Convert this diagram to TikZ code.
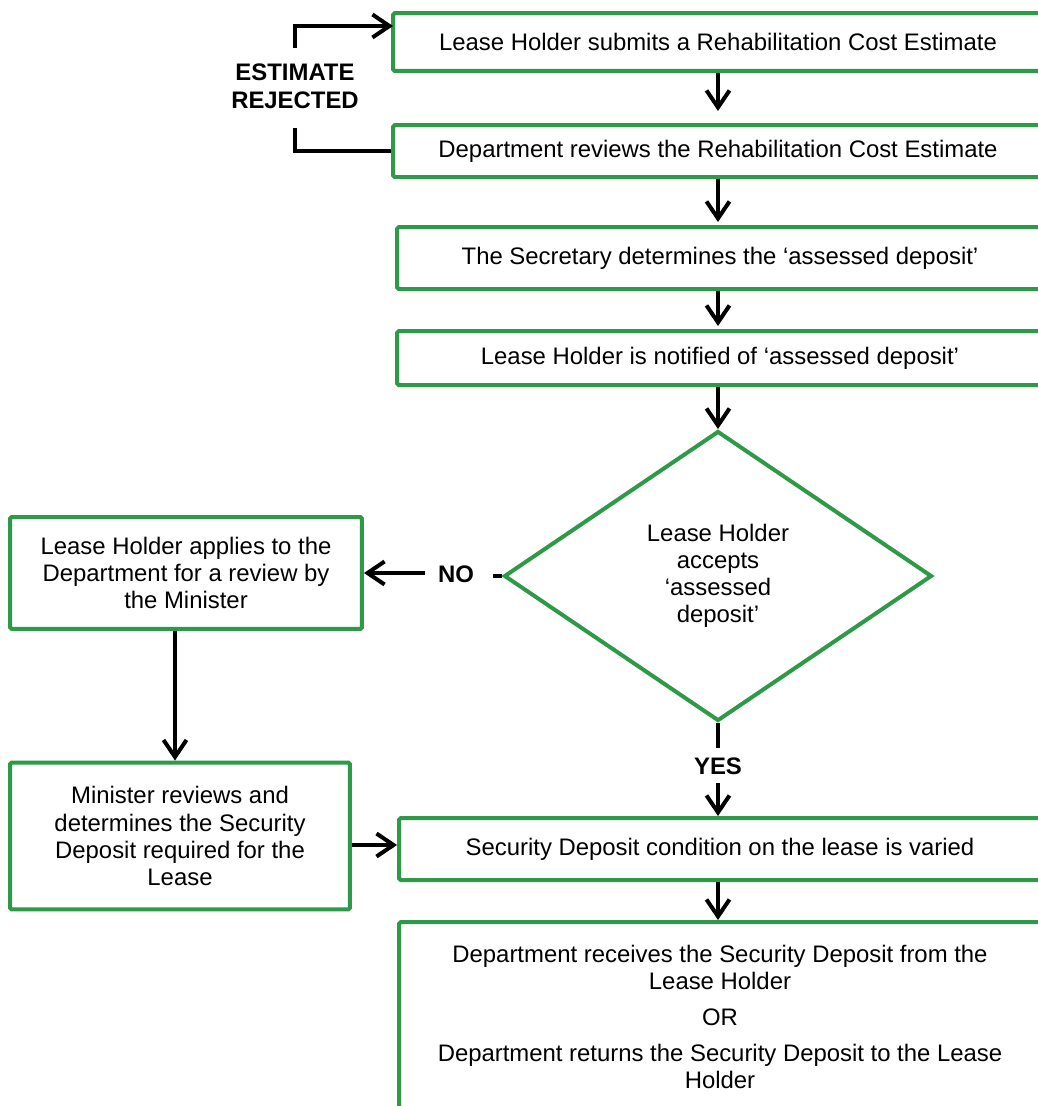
\documentclass[tikz,border=0pt]{standalone}
\usepackage{fontspec}
\setmainfont{Liberation Sans}
\usepackage{tikz}
\usetikzlibrary{shapes.geometric,arrows.meta}
\definecolor{leasegreen}{RGB}{46,154,72}

\begin{document}
\begin{tikzpicture}[x=0.02cm,y=-0.02cm,
  box/.style={draw=leasegreen,line width=0.08cm,rounded corners=1pt,align=center,
    inner sep=0pt,font=\fontsize{13.6}{15.4}\selectfont},
  arr/.style={-{Straight Barb[length=0.34cm,width=0.46cm]},line width=0.08cm},
  lbl/.style={align=center,font=\bfseries\fontsize{13.6}{15.9}\selectfont}]
\useasboundingbox (0,0) rectangle (1038,1106);
\clip (0,0) rectangle (1038,1106);
% main column
\node[box,minimum width=13cm,minimum height=1.16cm] (submit) at (718,42) {Lease Holder submits a Rehabilitation Cost Estimate};
\node[box,minimum width=13cm,minimum height=1.04cm] (review) at (718,151) {Department reviews the Rehabilitation Cost Estimate};
\node[box,minimum width=12.92cm,minimum height=1.24cm] (assess) at (720,258) {The Secretary determines the ‘assessed deposit’};
\node[box,minimum width=12.92cm,minimum height=1.08cm] (notify) at (720,358) {Lease Holder is notified of ‘assessed deposit’};
\node[box,diamond,rounded corners=0pt,minimum width=8.56cm,minimum height=5.8cm] (accept) at (718,576) {Lease Holder\\accepts\\‘assessed\\deposit’};
\node[box,minimum width=12.84cm,minimum height=1.24cm] (varied) at (720,849) {Security Deposit condition on the lease is varied};
\node[box,minimum width=12.84cm,minimum height=3.8cm] (deposit) at (720,1017) {Department receives the Security Deposit from the\\Lease Holder\\[5pt]OR\\[5pt]Department returns the Security Deposit to the Lease\\Holder};
% left column
\node[box,minimum width=7.04cm,minimum height=2.24cm] (apply) at (186,573) {Lease Holder applies to the\\Department for a review by\\the Minister};
\node[box,minimum width=6.8cm,minimum height=2.94cm] (minister) at (180,836) {Minister reviews and\\determines the Security\\Deposit required for the\\Lease};
% labels
\node[lbl] (rejected) at (295,86) {ESTIMATE\\REJECTED};
\node[lbl] (no) at (456,574) {NO};
\node[lbl] (yes) at (718,766) {YES};
\coordinate (rejlow) at (295,128);
\coordinate (rejtop) at (295,48);
\coordinate (rejin) at (393,26);
\coordinate (nostub) at (493,576);
\coordinate (noleft) at (425,573);
\coordinate (yesstub) at (718,748);
\coordinate (yestop) at (718,783);
% connectors
\draw[arr,shorten >=0.24cm] (submit.south -| accept) -- (review.north -| accept);
\draw[arr,shorten >=0.06cm] (review.south -| accept) -- (assess.north -| accept);
\draw[arr,shorten >=0.06cm] (assess.south -| accept) -- (notify.north -| accept);
\draw[arr] (notify.south -| accept) -- (accept.north);
\draw[line width=0.08cm] (review.west) -| (rejlow);
\draw[arr] (rejtop) |- (rejin);
\draw[line width=0.08cm] (accept.west) -- (nostub);
\draw[arr] (noleft) -- (apply.east |- noleft);
\draw[line width=0.08cm] (accept.south) -- (yesstub);
\draw[arr] (yestop) -- (varied.north -| accept);
\draw[arr] (varied.south -| accept) -- (deposit.north -| accept);
\draw[arr] (apply.south -| 175,0) -- (minister.north -| 175,0);
\draw[arr] (minister.east |- 0,845) -- (varied.west |- 0,845);
\end{tikzpicture}
\end{document}
